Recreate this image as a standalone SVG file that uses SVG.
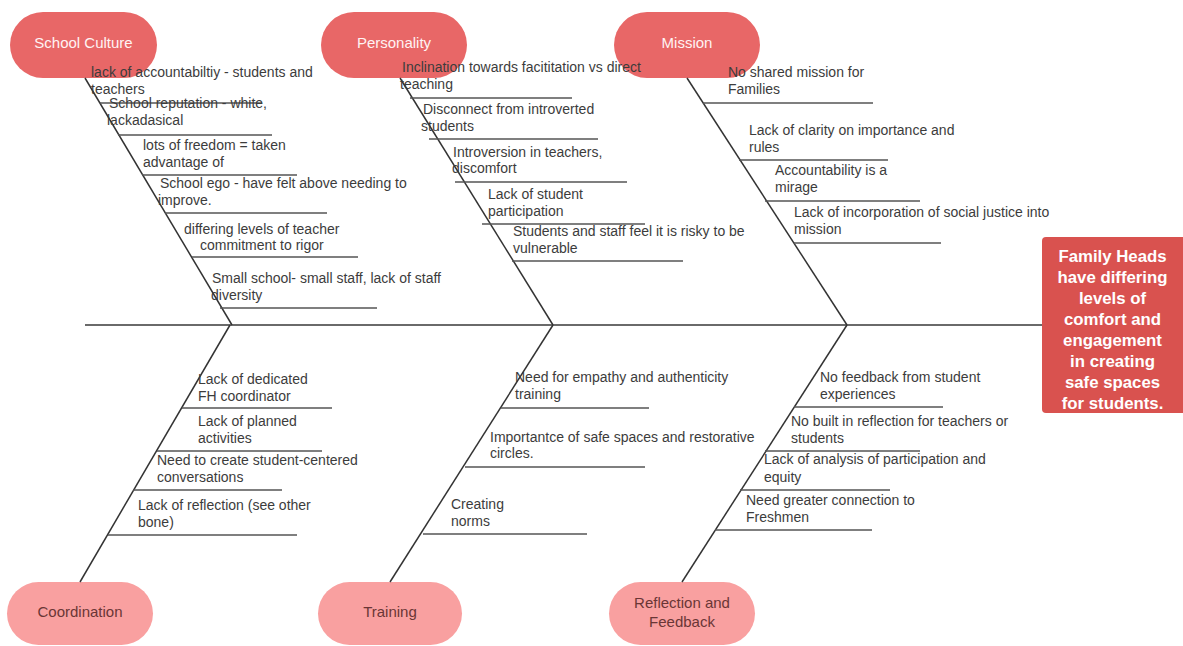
<svg xmlns="http://www.w3.org/2000/svg" width="1183" height="646" viewBox="0 0 1183 646">
<style>
.bg{fill:#ffffff}
.pillTop{fill:#e86767}
.pillBot{fill:#f9a0a0}
.effect{fill:#d9524f}
.ptTop{font-family:"Liberation Sans",Arial,sans-serif;font-size:15px;fill:#fff3f3;text-anchor:middle}
.ptBot{font-family:"Liberation Sans",Arial,sans-serif;font-size:15px;fill:#6a3636;text-anchor:middle}
.et{font-family:"Liberation Sans",Arial,sans-serif;font-size:16.8px;font-weight:bold;fill:#ffffff;text-anchor:middle}
.lbl{font-family:"Liberation Sans",Arial,sans-serif;font-size:14px;fill:#3c3c3c}
.spine{stroke:#6a6a6a;stroke-width:2;fill:none}
.bone{stroke:#333333;stroke-width:1.5;fill:none}
.sub{stroke:#555555;stroke-width:1.5;fill:none}
</style>
<rect class="bg" x="0" y="0" width="1183" height="646"/>

<g id="node-school-culture"><rect class="pillTop" x="10" y="12" width="147" height="66" rx="33"/><text class="ptTop" x="83.5" y="48">School Culture</text></g>
<g id="node-personality"><rect class="pillTop" x="321" y="12" width="146" height="66" rx="33"/><text class="ptTop" x="394" y="48">Personality</text></g>
<g id="node-mission"><rect class="pillTop" x="614" y="12" width="146" height="66" rx="33"/><text class="ptTop" x="687" y="48">Mission</text></g>
<g id="node-coordination"><rect class="pillBot" x="7" y="582" width="146" height="63" rx="31.5"/><text class="ptBot" x="80" y="617">Coordination</text></g>
<g id="node-training"><rect class="pillBot" x="318" y="582" width="144" height="63" rx="31.5"/><text class="ptBot" x="390" y="617">Training</text></g>
<g id="node-reflection"><rect class="pillBot" x="609" y="582" width="146" height="63" rx="31.5"/><text class="ptBot" x="682" y="608">Reflection and</text><text class="ptBot" x="682" y="627">Feedback</text></g>
<g id="node-effect"><rect class="effect" x="1042" y="237" width="145" height="176" rx="4"/>
<text class="et" x="1112.5" y="262">Family Heads</text>
<text class="et" x="1112.5" y="283">have differing</text>
<text class="et" x="1112.5" y="304">levels of</text>
<text class="et" x="1112.5" y="325">comfort and</text>
<text class="et" x="1112.5" y="346">engagement</text>
<text class="et" x="1112.5" y="367">in creating</text>
<text class="et" x="1112.5" y="388">safe spaces</text>
<text class="et" x="1112.5" y="409">for students.</text>
</g>

<g id="connectors">
<line class="spine" x1="85" y1="325" x2="1042" y2="325"/>
<line class="bone" x1="85" y1="78" x2="232" y2="325"/>
<line class="bone" x1="400" y1="78" x2="553" y2="325"/>
<line class="bone" x1="687" y1="78" x2="847" y2="325"/>
<line class="bone" x1="230" y1="325" x2="80" y2="582"/>
<line class="bone" x1="553" y1="325" x2="390" y2="582"/>
<line class="bone" x1="847" y1="325" x2="682" y2="582"/>
<!-- School Culture sub-bones -->
<line class="sub" x1="100" y1="103" x2="262" y2="103"/>
<line class="sub" x1="118" y1="135" x2="272" y2="135"/>
<line class="sub" x1="142" y1="175" x2="297" y2="175"/>
<line class="sub" x1="165" y1="213" x2="327" y2="213"/>
<line class="sub" x1="192" y1="257" x2="358" y2="257"/>
<line class="sub" x1="220" y1="308" x2="377" y2="308"/>
<!-- Personality sub-bones -->
<line class="sub" x1="410" y1="98" x2="572" y2="98"/>
<line class="sub" x1="429" y1="139" x2="598" y2="139"/>
<line class="sub" x1="455" y1="182" x2="627" y2="182"/>
<line class="sub" x1="482" y1="224" x2="645" y2="224"/>
<line class="sub" x1="512" y1="261" x2="683" y2="261"/>
<!-- Mission sub-bones -->
<line class="sub" x1="703" y1="103" x2="873" y2="103"/>
<line class="sub" x1="739" y1="160" x2="888" y2="160"/>
<line class="sub" x1="765" y1="201" x2="920" y2="201"/>
<line class="sub" x1="794" y1="243" x2="941" y2="243"/>
<!-- Coordination sub-bones -->
<line class="sub" x1="182" y1="408" x2="332" y2="408"/>
<line class="sub" x1="157" y1="451" x2="322" y2="451"/>
<line class="sub" x1="133" y1="490" x2="282" y2="490"/>
<line class="sub" x1="108" y1="535" x2="297" y2="535"/>
<!-- Training sub-bones -->
<line class="sub" x1="501" y1="408" x2="649" y2="408"/>
<line class="sub" x1="465" y1="467" x2="645" y2="467"/>
<line class="sub" x1="423" y1="534" x2="587" y2="534"/>
<!-- Reflection sub-bones -->
<line class="sub" x1="794" y1="407" x2="943" y2="407"/>
<line class="sub" x1="765" y1="451" x2="920" y2="451"/>
<line class="sub" x1="740" y1="490" x2="890" y2="490"/>
<line class="sub" x1="715" y1="530" x2="872" y2="530"/>
</g>

<g id="labels">
<text class="lbl" x="91" y="77">lack of accountabiltiy - students and</text>
<text class="lbl" x="91" y="94">teachers</text>
<text class="lbl" x="109" y="108">School reputation - white,</text>
<text class="lbl" x="107" y="125">lackadasical</text>
<text class="lbl" x="143" y="150">lots of freedom = taken</text>
<text class="lbl" x="143" y="167">advantage of</text>
<text class="lbl" x="160" y="188">School ego - have felt above needing to</text>
<text class="lbl" x="158" y="205">improve.</text>
<text class="lbl" x="184" y="234">differing levels of teacher</text>
<text class="lbl" x="200" y="250">commitment to rigor</text>
<text class="lbl" x="212" y="283">Small school- small staff, lack of staff</text>
<text class="lbl" x="211" y="300">diversity</text>

<text class="lbl" x="402" y="72">Inclination towards facititation vs direct</text>
<text class="lbl" x="400" y="89">teaching</text>
<text class="lbl" x="423" y="114">Disconnect from introverted</text>
<text class="lbl" x="421" y="131">students</text>
<text class="lbl" x="453" y="157">Introversion in teachers,</text>
<text class="lbl" x="452" y="173">discomfort</text>
<text class="lbl" x="488" y="199">Lack of student</text>
<text class="lbl" x="488" y="216">participation</text>
<text class="lbl" x="513" y="236">Students and staff feel it is risky to be</text>
<text class="lbl" x="513" y="253">vulnerable</text>

<text class="lbl" x="728" y="77">No shared mission for</text>
<text class="lbl" x="728" y="94">Families</text>
<text class="lbl" x="749" y="135">Lack of clarity on importance and</text>
<text class="lbl" x="749" y="152">rules</text>
<text class="lbl" x="775" y="175">Accountability is a</text>
<text class="lbl" x="775" y="192">mirage</text>
<text class="lbl" x="794" y="217">Lack of incorporation of social justice into</text>
<text class="lbl" x="794" y="234">mission</text>

<text class="lbl" x="198" y="384">Lack of dedicated</text>
<text class="lbl" x="198" y="401">FH coordinator</text>
<text class="lbl" x="198" y="426">Lack of planned</text>
<text class="lbl" x="198" y="443">activities</text>
<text class="lbl" x="157" y="465">Need to create student-centered</text>
<text class="lbl" x="157" y="482">conversations</text>
<text class="lbl" x="138" y="510">Lack of reflection (see other</text>
<text class="lbl" x="138" y="527">bone)</text>

<text class="lbl" x="515" y="382">Need for empathy and authenticity</text>
<text class="lbl" x="515" y="399">training</text>
<text class="lbl" x="490" y="442">Importantce of safe spaces and restorative</text>
<text class="lbl" x="490" y="458">circles.</text>
<text class="lbl" x="451" y="509">Creating</text>
<text class="lbl" x="451" y="526">norms</text>

<text class="lbl" x="820" y="382">No feedback from student</text>
<text class="lbl" x="820" y="399">experiences</text>
<text class="lbl" x="791" y="426">No built in reflection for teachers or</text>
<text class="lbl" x="791" y="443">students</text>
<text class="lbl" x="764" y="464">Lack of analysis of participation and</text>
<text class="lbl" x="764" y="482">equity</text>
<text class="lbl" x="746" y="505">Need greater connection to</text>
<text class="lbl" x="746" y="522">Freshmen</text>
</g>
</svg>
